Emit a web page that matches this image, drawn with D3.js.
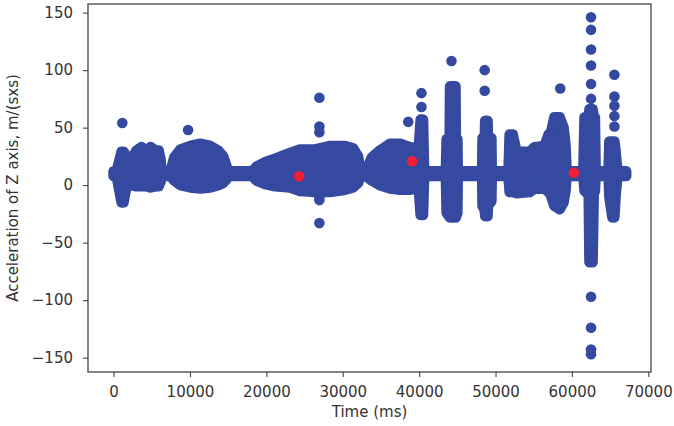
<!DOCTYPE html>
<html><head><meta charset="utf-8">
<script src="https://cdn.jsdelivr.net/npm/d3@7"></script>
<style>
html,body{margin:0;padding:0;background:#fff;}
text{font-family:"DejaVu Sans",sans-serif;}
</style></head>
<body><svg id="c" width="674" height="426"></svg>
<script>
// ---- data ----
const xTicks = [0, 10000, 20000, 30000, 40000, 50000, 60000, 70000];
const yTicks = [-150, -100, -50, 0, 50, 100, 150];

// envelope of the dense blue cloud: time (ms), upper and lower value of point centres
const envTime  = [0,400,1050,1300,1700,2350,3000,3650,4300,4850,5500,5900,6150,6250,7450,7950,8750,10050,11350,12650,13700,14350,14750,15000,18150,18700,19850,21150,23100,24400,26400,28350,30300,31350,32000,32300,33050,33800,34850,36200,37500,38800,39950,40200,40500,40650,43500,43600,44000,44050,44750,44800,45000,45050,48250,48300,48600,48650,48950,49000,49450,49500,51700,51850,52250,52750,54450,55100,56400,56950,57200,57700,58400,58900,59150,59300,61500,61650,62200,62300,62700,62850,63000,63100,64800,64900,65300,65550,65700,65950,67100];
const envUpper = [12,12,29,29,25,22,30,33,30,33,30,30,22,12,12,24,31,34,36,34,30,25,17,12,12,16,20,23,28,31,31,34,34,32,25,12,12,24,30,36,36,33,32,57,57,12,12,40,40,86,86,40,40,12,12,41,41,56,56,41,41,12,12,44,44,29,29,33,34,44,44,59,59,50,35,12,12,59,59,66,66,59,59,12,12,38,38,38,30,12,12];
const envLower = [8,8,-15,-15,0,0,-1,-1,-1,-2,-1,-1,3,8,8,4,0,-2,-3,-2,0,2,5,8,8,4,1,-1,-2,-5,-6,-6,-4,-2,2,8,8,4,0,-3,-4,-4,-2,-26,-26,8,8,-24,-28,-28,-28,-28,-24,8,8,-18,-22,-27,-27,-18,-14,8,8,-6,-6,-7,-6,-3,-3,-6,-8,-18,-21,-15,-5,8,8,-5,-8,-67,-67,-8,-5,8,8,-10,-28,-28,-10,8,8];

// isolated blue points
const dotTime  = [1140,9750,26940,26940,26940,26940,26940,26940,38570,40300,40300,44230,48580,48580,58470,62500,62500,62500,62500,62500,62500,62500,62500,62500,62500,65560,65560,65560,65560,65560];
const dotValue = [54,48,76,51,46,-10,-13,-33,55,80,68,108,100,82,84,146,135,118,104,88,75,-97,-124,-143,-147,96,77,69,60,51];

// red highlighted points
const redTime  = [24290, 39090, 60250];
const redValue = [7.7, 20.8, 10.7];

// ---- chart ----
const svg = d3.select("#c");
const L = 88, R = 651, T = 4, B = 372;
const x = d3.scaleLinear().domain([-3350, 70350]).range([L, R]);
const y = d3.scaleLinear().domain([-162.5, 157.5]).range([B, T]);
const blue = "#3549a0", red = "#f21f37", rad = 5.3;

const env = envTime.map((t, i) => ({t, u: envUpper[i], l: envLower[i]}));
const area = d3.area().x(d => x(d.t)).y0(d => y(d.l)).y1(d => y(d.u));
svg.append("path").datum(env).attr("d", area)
  .attr("fill", blue).attr("stroke", blue)
  .attr("stroke-width", rad * 2).attr("stroke-linejoin", "round");

svg.append("g").selectAll("circle").data(dotTime.map((t, i) => [t, dotValue[i]]))
  .join("circle").attr("cx", d => x(d[0])).attr("cy", d => y(d[1]))
  .attr("r", rad).attr("fill", blue);

svg.append("g").selectAll("circle").data(redTime.map((t, i) => [t, redValue[i]]))
  .join("circle").attr("cx", d => x(d[0])).attr("cy", d => y(d[1]))
  .attr("r", rad).attr("fill", red);

// frame
svg.append("rect").attr("x", L).attr("y", T).attr("width", R - L).attr("height", B - T)
  .attr("fill", "none").attr("stroke", "#666").attr("stroke-width", 1.6);

const fmt = d3.format("d");
const gx = svg.append("g").attr("transform", `translate(0,${B})`)
  .call(d3.axisBottom(x).tickValues(xTicks).tickFormat(fmt).tickSize(5).tickPadding(9));
const gy = svg.append("g").attr("transform", `translate(${L},0)`)
  .call(d3.axisLeft(y).tickValues(yTicks).tickFormat(fmt).tickSize(5).tickPadding(10));
[gx, gy].forEach(g => {
  g.select(".domain").remove();
  g.selectAll("line").attr("stroke", "#444").attr("stroke-width", 1.1);
  g.selectAll("text").attr("fill", "#333").style("font-size", "15px")
    .style("font-family", "'DejaVu Sans', sans-serif");
});

svg.append("text").attr("x", (L + R) / 2).attr("y", 417).attr("text-anchor", "middle")
  .attr("fill", "#333").style("font-size", "15px").text("Time (ms)");
svg.append("text").attr("transform", `translate(18,${(T + B) / 2}) rotate(-90)`)
  .attr("text-anchor", "middle").attr("fill", "#333").style("font-size", "15px")
  .text("Acceleration of Z axis, m/(sxs)");
</script></body></html>
